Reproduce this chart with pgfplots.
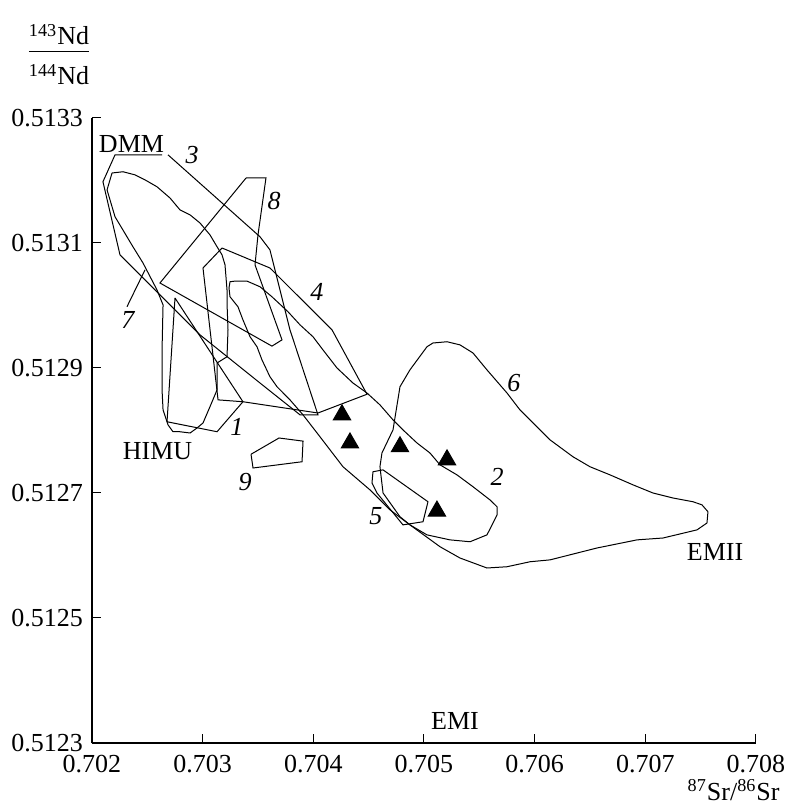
\documentclass[border=0pt]{standalone}
\usepackage{pgfplots}
\pgfplotsset{compat=1.18}
\usepackage{fontspec}
\setmainfont{Liberation Serif}
\begin{document}
\fontsize{13}{15.6}\selectfont
\begin{tikzpicture}
\begin{axis}[name=ax, width=332pt, height=312.5pt, scale only axis,
  xmin=0.702, xmax=0.708, ymin=0.5123, ymax=0.5133, enlargelimits=false,
  axis x line=bottom, axis y line=left, axis line style={-, line width=0.6pt},
  tick align=inside, major tick length=4.5pt, tick style={line width=0.5pt, black},
  xtick={0.702,0.703,0.704,0.705,0.706,0.707,0.708},
  xticklabels={0.702,0.703,0.704,0.705,0.706,0.707,0.708},
  ytick={0.5123,0.5125,0.5127,0.5129,0.5131,0.5133},
  yticklabels={0.5123,0.5125,0.5127,0.5129,0.5131,0.5133},
  ticklabel style={font=\fontsize{13}{15.6}\selectfont},
  xticklabel style={yshift=-1.5pt},
  clip=false,
  every axis plot/.append style={line width=0.5pt, black},
]
% 3 (DMM polygon)
\addplot[black] coordinates {(0.702687,0.513241)(0.703518,0.513110)(0.703608,0.513089)(0.703789,0.512961)(0.704042,0.512825)(0.703880,0.512825)(0.703518,0.512876)(0.702976,0.512953)(0.702253,0.513081)(0.702099,0.513198)(0.702208,0.513241)(0.702633,0.513241)};
% 8
\addplot[black] coordinates {(0.703392,0.513204)(0.703572,0.513204)(0.703500,0.513113)(0.703473,0.513065)(0.703717,0.512945)(0.703626,0.512935)(0.702614,0.513036)(0.703392,0.513204)};
% 4
\addplot[black] coordinates {(0.703175,0.513092)(0.703608,0.513060)(0.704169,0.512961)(0.704485,0.512858)(0.704042,0.512828)(0.703364,0.512846)(0.703139,0.512849)(0.703003,0.513060)(0.703175,0.513092)};
% 1
\addplot[black] coordinates {(0.702750,0.513012)(0.703364,0.512846)(0.703130,0.512798)(0.702678,0.512814)(0.702750,0.513012)};
% 9
\addplot[black] coordinates {(0.703437,0.512762)(0.703690,0.512788)(0.703907,0.512783)(0.703898,0.512750)(0.703455,0.512740)(0.703437,0.512762)};
% 5
\addplot[black] coordinates {(0.704539,0.512734)(0.704630,0.512737)(0.705036,0.512686)(0.704991,0.512654)(0.704810,0.512649)(0.704575,0.512700)(0.704530,0.512716)(0.704539,0.512734)};
% 7 (wavy field)
\addplot[black] coordinates {(0.702181,0.513212)(0.702280,0.513214)(0.702389,0.513209)(0.702479,0.513201)(0.702587,0.513190)(0.702705,0.513172)(0.702795,0.513153)(0.702886,0.513145)(0.702976,0.513132)(0.703066,0.513113)(0.703130,0.513094)(0.703175,0.513081)(0.703202,0.513065)(0.703220,0.513025)(0.703220,0.513004)(0.703229,0.512961)(0.703220,0.512918)(0.703130,0.512908)(0.703130,0.512865)(0.703066,0.512838)(0.703003,0.512812)(0.702949,0.512804)(0.702886,0.512796)(0.702795,0.512798)(0.702732,0.512798)(0.702687,0.512809)(0.702642,0.512833)(0.702633,0.512865)(0.702633,0.512929)(0.702642,0.513001)(0.702587,0.513025)(0.702461,0.513068)(0.702370,0.513094)(0.702316,0.513110)(0.702208,0.513142)(0.702136,0.513185)(0.702181,0.513212)};
\addplot[black] coordinates {(0.702316,0.512998)(0.702479,0.513057)};
% 2
\addplot[black] coordinates {(0.703247,0.513038)(0.703292,0.513039)(0.703401,0.513039)(0.703518,0.513030)(0.703626,0.513014)(0.703771,0.512990)(0.703880,0.512969)(0.703997,0.512950)(0.704087,0.512929)(0.704214,0.512900)(0.704358,0.512876)(0.704485,0.512860)(0.704602,0.512841)(0.704720,0.512817)(0.704810,0.512801)(0.704937,0.512780)(0.705054,0.512764)(0.705145,0.512745)(0.705298,0.512729)(0.705443,0.512710)(0.705596,0.512689)(0.705660,0.512678)(0.705660,0.512665)(0.705624,0.512652)(0.705569,0.512633)(0.705416,0.512622)(0.705235,0.512625)(0.705027,0.512633)(0.704873,0.512649)(0.704693,0.512673)(0.704512,0.512705)(0.704268,0.512742)(0.704060,0.512790)(0.703907,0.512825)(0.703789,0.512849)(0.703672,0.512870)(0.703608,0.512886)(0.703536,0.512913)(0.703491,0.512934)(0.703428,0.512950)(0.703364,0.512977)(0.703319,0.512998)(0.703247,0.513014)(0.703238,0.513028)(0.703247,0.513038)};
% 6
\addplot[black] coordinates {(0.705027,0.512934)(0.705081,0.512940)(0.705208,0.512942)(0.705325,0.512937)(0.705443,0.512924)(0.705569,0.512897)(0.705750,0.512860)(0.705867,0.512833)(0.706048,0.512801)(0.706139,0.512785)(0.706346,0.512758)(0.706500,0.512742)(0.706681,0.512729)(0.706889,0.512713)(0.707069,0.512700)(0.707250,0.512692)(0.707431,0.512686)(0.707512,0.512681)(0.707566,0.512670)(0.707557,0.512652)(0.707467,0.512641)(0.707160,0.512628)(0.706925,0.512625)(0.706563,0.512612)(0.706139,0.512593)(0.705958,0.512590)(0.705750,0.512582)(0.705569,0.512580)(0.705325,0.512596)(0.705145,0.512614)(0.704873,0.512649)(0.704783,0.512662)(0.704630,0.512700)(0.704602,0.512742)(0.704620,0.512764)(0.704720,0.512801)(0.704783,0.512870)(0.704873,0.512897)(0.705027,0.512934)};
% samples
\addplot[only marks, mark=triangle*, mark size=5pt, black] coordinates {(0.704259,0.512825)(0.704331,0.512780)(0.704783,0.512774)(0.705208,0.512753)(0.705117,0.512671)};
% labels
\node at (axis cs:0.702357,0.513259) {DMM};
\node at (axis cs:0.702592,0.512767) {HIMU};
\node at (axis cs:0.707630,0.512606) {EMII};
\node at (axis cs:0.705280,0.512335) {EMI};
\node[font=\itshape] at (axis cs:0.702904,0.513241) {3};
\node[font=\itshape] at (axis cs:0.703645,0.513167) {8};
\node[font=\itshape] at (axis cs:0.704033,0.513022) {4};
\node[font=\itshape] at (axis cs:0.702325,0.512977) {7};
\node[font=\itshape] at (axis cs:0.705813,0.512876) {6};
\node[font=\itshape] at (axis cs:0.703310,0.512806) {1};
\node[font=\itshape] at (axis cs:0.703383,0.512718) {9};
\node[font=\itshape] at (axis cs:0.704566,0.512663) {5};
\node[font=\itshape] at (axis cs:0.705660,0.512726) {2};
\end{axis}
\node[anchor=base east, inner sep=0pt] at ([xshift=12pt,yshift=-28.5pt]ax.south east) {\textsuperscript{87}Sr/\textsuperscript{86}Sr};
\node[anchor=base, inner sep=0pt] at ([xshift=-16.5pt,yshift=36.5pt]ax.north west) {\textsuperscript{143}Nd};
\draw[line width=0.5pt] ([xshift=-31.5pt,yshift=33pt]ax.north west) -- ([xshift=-1.5pt,yshift=33pt]ax.north west);
\node[anchor=base, inner sep=0pt] at ([xshift=-16.5pt,yshift=16.5pt]ax.north west) {\textsuperscript{144}Nd};
\pgfresetboundingbox
\path[use as bounding box] ([shift={(-46pt,-30.5pt)}]ax.south west) rectangle ([shift={(15pt,59pt)}]ax.north east);
\end{tikzpicture}
\end{document}
